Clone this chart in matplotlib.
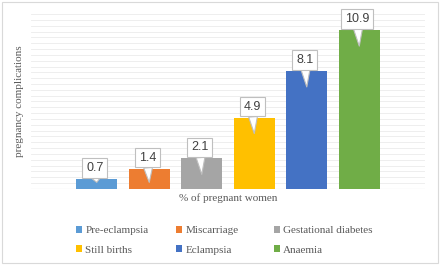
import matplotlib
matplotlib.use('Agg')
import matplotlib.pyplot as plt
import numpy as np
from matplotlib.patches import Rectangle

# data
labels = ['Pre-eclampsia', 'Miscarriage', 'Gestational diabetes',
          'Still births', 'Eclampsia', 'Anaemia']
values = [0.7, 1.4, 2.1, 4.9, 8.1, 10.9]
colors = ['#5b9bd5', '#ed7d31', '#a5a5a5', '#ffc000', '#4472c4', '#70ad47']

fig = plt.figure(figsize=(4.4, 2.65), dpi=100)
ax = fig.add_axes([0.0705, 0.287, 0.8955, 0.66])

step = 52.5 / 394
width = 41 / 394
xs = (np.arange(len(values)) - 2.5) * step

# faint gridlines
for gy in np.arange(0.4, 12.01, 0.4):
    ax.axhline(gy, color='#ebebeb', lw=0.6, zorder=0)
ax.axhline(0, color='#d9d9d9', lw=0.8, zorder=0)

bars = ax.bar(xs, values, width=width, color=colors, label=labels, zorder=2)

# callout labels
for x, v in zip(xs, values):
    depth = min(1.1, v - 0.45)
    ax.annotate(f"{v}", xy=(x, v - depth), xytext=(x - 0.005, v + 0.75),
                ha='center', va='center', fontsize=9, color='#404040',
                family='Liberation Sans', zorder=3,
                bbox=dict(boxstyle='square,pad=0.3', fc='white', ec='#bfbfbf', lw=0.8),
                arrowprops=dict(arrowstyle='wedge,tail_width=0.7,shrink_factor=0.5',
                                fc='white', ec='#bfbfbf', lw=0.8, shrinkA=0, shrinkB=0))

ax.set_xlim(-0.5, 0.5)
ax.set_ylim(0, 12)
ax.set_xticks([])
ax.set_yticks([])
for s in ax.spines.values():
    s.set_visible(False)

ax.set_xlabel('% of pregnant women', family='Liberation Serif', fontsize=8,
              color='#595959', labelpad=3)
ax.set_ylabel('pregnancy complications', family='Liberation Serif', fontsize=8,
              color='#595959', labelpad=5)

# legend: three fixed-width columns, each its own legend
col_x = [0.1495, 0.3767, 0.5995]
for c, lx in enumerate(col_x):
    idx = [c, c + 3]
    leg = fig.legend([bars[i] for i in idx], [labels[i] for i in idx],
                     loc='upper left', bbox_to_anchor=(lx, 0.185), frameon=False,
                     prop={'family': 'Liberation Serif', 'size': 8},
                     handlelength=0.55, handleheight=0.55, handletextpad=0.3,
                     labelspacing=0.9)
    for t in leg.get_texts():
        t.set_color('#595959')

fig.patches.append(Rectangle((0.004, 0.008), 0.991, 0.985, transform=fig.transFigure,
                             fill=False, ec='#d9d9d9', lw=0.8))

fig.savefig('out.png', dpi=100)
